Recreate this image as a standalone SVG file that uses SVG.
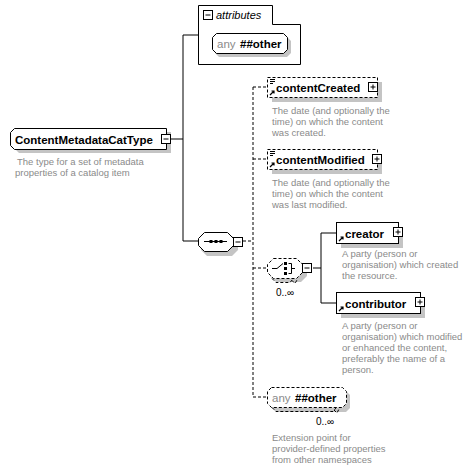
<svg xmlns="http://www.w3.org/2000/svg" width="471" height="469" viewBox="0 0 471 469">
<defs>
<style>
.bg{fill:#ffffff}
.nm{font-family:"Liberation Sans",Arial,sans-serif;font-size:11.5px;font-weight:bold;fill:#000}
.ds{font-family:"Liberation Sans",Arial,sans-serif;font-size:9.5px;fill:#8a8a8a}
.any{font-family:"Liberation Sans",Arial,sans-serif;font-size:11.5px;fill:#8a8a8a}
.occ{font-family:"Liberation Sans",Arial,sans-serif;font-size:10px;fill:#000}
.sh{fill:#c4c4c4;stroke:none}
.box{fill:#fff;stroke:#000;stroke-width:1}
.dbox{fill:#fff;stroke:#000;stroke-width:1;stroke-dasharray:3,2}
.ln{fill:none;stroke:#000;stroke-width:1}
.dln{fill:none;stroke:#000;stroke-width:1;stroke-dasharray:3,2}
.ic{fill:#fff;stroke:#000;stroke-width:1}
</style>
<g id="plus"><rect class="ic" x="0.5" y="0.5" width="9" height="9"/><path d="M2.5 5H7.5M5 2.5V7.5" stroke="#000" fill="none"/></g>
<g id="minus"><rect class="ic" x="0.5" y="0.5" width="9" height="9"/><path d="M2.5 5H7.5" stroke="#000" fill="none"/></g>
<g id="ref"><path d="M1 6L5 2M2.5 2H5V4.5" stroke="#000" fill="none" stroke-width="1.2"/></g>
<g id="simple"><path d="M0 0.5H5M0 2.5H5M0 4.5H3" stroke="#000" fill="none" stroke-width="1"/></g>
</defs>
<rect width="471" height="469" fill="#fff"/>

<g id="connectors">
<path class="ln" d="M171 139H183M183 35V241M183 35H198M183 241H198"/>
<path class="dln" d="M243 241H253M253 87V397M253 87H267M253 159H267M253 268H267M253 397H267"/>
<path class="ln" d="M313 268H321M321 233V303M321 233H336M321 303H336"/>
</g>

<g id="node-root">
<path class="sh" d="M19 132H171V153H19L15 149V136Z"/>
<path class="box" d="M14.5 128.5H166.5V149.5H14.5L10.5 145.5V132.5Z"/>
<text class="nm" x="15" y="143.5">ContentMetadataCatType</text>
<use href="#minus" x="161" y="134"/>
<text class="ds" x="17" y="165">The type for a set of metadata</text>
<text class="ds" x="15" y="176">properties of a catalog item</text>
</g>

<g id="node-attributes">
<path class="box" d="M198.5 5.5H272.5V24.5H300.5V64.5H198.5Z"/>
<use href="#minus" x="203" y="10"/>
<text x="216" y="19" font-family="'Liberation Sans',Arial,sans-serif" font-size="11px" font-style="italic">attributes</text>
<path class="sh" d="M219 37H287L291 41V53L287 57H219L215 53V41Z"/>
<path class="box" d="M216.5 33.5H283.5L287.5 37.5V49.5L283.5 53.5H216.5L212.5 49.5V37.5Z"/>
<text class="any" x="217" y="47.5">any</text>
<text class="nm" x="240" y="47.5">##other</text>
</g>

<g id="node-sequence">
<path class="sh" d="M207 236H232L238 242V250L232 256H207L201 250V242Z"/>
<path class="box" d="M204.5 232.5H227.5L233.5 238.5V245.5L227.5 251.5H204.5L198.5 245.5V238.5Z"/>
<path class="ln" d="M204 241.5H227"/>
<rect x="209.5" y="240" width="3" height="3" fill="#000"/>
<rect x="214.5" y="240" width="3" height="3" fill="#000"/>
<rect x="219.5" y="240" width="3" height="3" fill="#000"/>
<use href="#minus" x="233" y="237"/>
</g>

<g id="node-contentCreated">
<rect class="sh" x="272" y="82" width="110" height="20"/>
<rect class="dbox" x="267.5" y="77.5" width="110" height="20"/>
<use href="#simple" x="270" y="79"/>
<use href="#ref" x="269" y="89"/>
<text class="nm" x="276" y="92">contentCreated</text>
<use href="#plus" x="368" y="82"/>
<text class="ds" x="272" y="114">The date (and optionally the</text>
<text class="ds" x="272" y="125">time) on which the content</text>
<text class="ds" x="272" y="136">was created.</text>
</g>

<g id="node-contentModified">
<rect class="sh" x="272" y="154" width="110" height="20"/>
<rect class="dbox" x="267.5" y="149.5" width="110" height="20"/>
<use href="#simple" x="270" y="151"/>
<use href="#ref" x="269" y="161"/>
<text class="nm" x="276" y="164">contentModified</text>
<use href="#plus" x="372" y="154"/>
<text class="ds" x="272" y="186">The date (and optionally the</text>
<text class="ds" x="272" y="197">time) on which the content</text>
<text class="ds" x="272" y="208">was last modified.</text>
</g>

<g id="node-choice">
<path class="sh" d="M276 262H301L307 268V276L301 282H276L270 276V268Z"/>
<path class="dbox" d="M273.5 258.5H296.5L302.5 264.5V272.5L296.5 278.5H273.5L267.5 272.5V264.5Z"/>
<path class="dln" d="M272 278.5L276 282.5H290L293 279M292 280.5L295 283.5L297 280"/>
<path class="ln" d="M272 268.5H277L283 263.5"/>
<rect x="284" y="262" width="3" height="3" fill="#000"/>
<rect x="284" y="267" width="3" height="3" fill="#000"/>
<rect x="284" y="272" width="3" height="3" fill="#000"/>
<path class="ln" d="M288.5 263.5H291.5V273.5H288.5M291.5 268.5H295"/>
<use href="#minus" x="302" y="263"/>
<text class="occ" x="276" y="296">0..∞</text>
</g>

<g id="node-creator">
<rect class="sh" x="341" y="227" width="62" height="21"/>
<rect class="box" x="336.5" y="222.5" width="62" height="21"/>
<use href="#ref" x="338" y="235"/>
<text class="nm" x="345" y="237.5">creator</text>
<use href="#plus" x="393" y="227"/>
<text class="ds" x="342" y="257">A party (person or</text>
<text class="ds" x="342" y="268">organisation) which created</text>
<text class="ds" x="342" y="279">the resource.</text>
</g>

<g id="node-contributor">
<rect class="sh" x="341" y="297" width="84" height="21"/>
<rect class="box" x="336.5" y="292.5" width="84" height="21"/>
<use href="#ref" x="338" y="305"/>
<text class="nm" x="345" y="307.5">contributor</text>
<use href="#plus" x="415" y="297"/>
<text class="ds" x="342" y="329">A party (person or</text>
<text class="ds" x="342" y="340">organisation) which modified</text>
<text class="ds" x="342" y="351">or enhanced the content,</text>
<text class="ds" x="342" y="362">preferably the name of a</text>
<text class="ds" x="342" y="373">person.</text>
</g>

<g id="node-any-other">
<path class="sh" d="M276 391H346L350 395V408L346 412H276L272 408V395Z"/>
<path class="dbox" d="M271.5 387.5H342.5L346.5 391.5V403.5L342.5 407.5H271.5L267.5 403.5V391.5Z"/>
<path class="dln" d="M272 407.5L276 411.5H333L336 408M334 410L337 413L339 409"/>
<text class="any" x="272" y="402">any</text>
<text class="nm" x="295" y="402">##other</text>
<text class="occ" x="316" y="425">0..∞</text>
<text class="ds" x="272" y="441">Extension point for</text>
<text class="ds" x="272" y="452">provider-defined properties</text>
<text class="ds" x="272" y="463">from other namespaces</text>
</g>
</svg>
